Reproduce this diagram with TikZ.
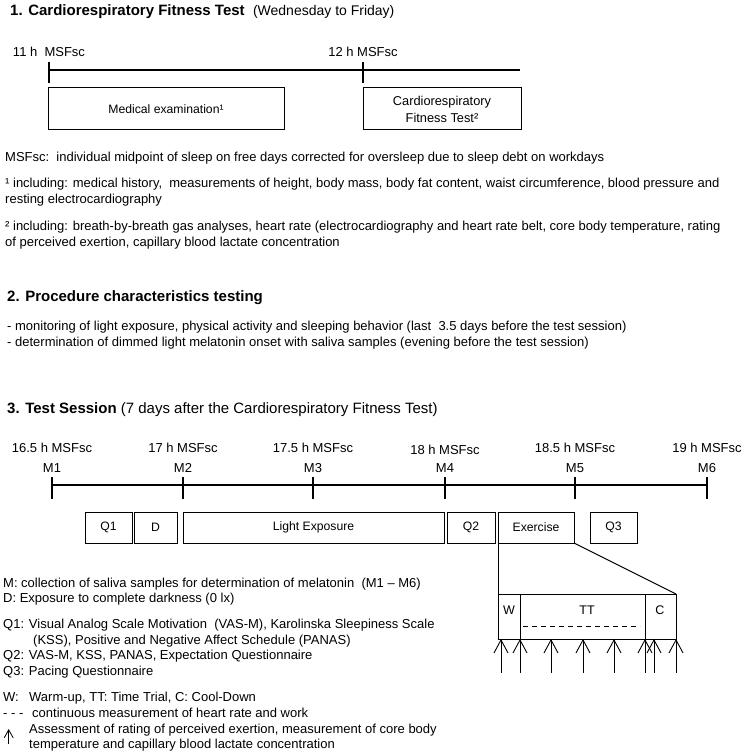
\documentclass[tikz,border=0pt]{standalone}
\usepackage{fontspec}
\setmainfont{Liberation Sans}
\usetikzlibrary{arrows.meta}
\begin{document}
\begin{tikzpicture}[x=1pt,y=-1pt,
  txt/.style={anchor=base west, inner sep=0pt, font=\fontsize{13}{16}\selectfont},
  ttl/.style={anchor=base west, inner sep=0pt, font=\fontsize{15}{18}\selectfont},
  lbl/.style={anchor=base, inner sep=0pt, font=\fontsize{13}{16}\selectfont},
  box/.style={draw, line width=1pt, inner sep=0pt, outer sep=0pt, anchor=north west,
              font=\fontsize{12.2}{16}\selectfont},
  axisline/.style={line width=1.4pt},
  meas/.style={line width=0.9pt, -{Straight Barb[length=13pt,width=14pt]}},
]
\useasboundingbox (0,0) rectangle (743,754);

% ---------- Section 1 ----------
\node[ttl] (t1) at (10,16) {\textbf{1. Cardiorespiratory Fitness Test}\ \ {\fontsize{14}{17}\selectfont(Wednesday to Friday)}};
\node[lbl] (l11) at (49,57) {11 h\ \ MSFsc};
\node[lbl] (l12) at (363,57) {12 h MSFsc};
\coordinate (a1s) at (49,70);
\coordinate (a1e) at (520,70);
\draw[axisline] (a1s) -- (a1e);
\coordinate (k1t) at (49,62); \coordinate (k1b) at (49,83);
\coordinate (k2t) at (363,62); \coordinate (k2b) at (363,83);
\draw[axisline] (k1t) -- (k1b);
\draw[axisline] (k2t) -- (k2b);
\node[box, minimum width=236pt, minimum height=42pt] (med) at (48,88) {Medical examination¹};
\node[box, minimum width=158pt, minimum height=42pt, align=center, font=\fontsize{12.8}{17}\selectfont] (cft) at (363,88) {Cardiorespiratory\\Fitness Test²};

\node[txt] (n0) at (5,162) {MSFsc:\ \ individual midpoint of sleep on free days corrected for oversleep due to sleep debt on workdays};
\node[txt] (n1a) at (5,187) {¹ including: medical history,\ \ measurements of height, body mass, body fat content, waist circumference, blood pressure and};
\node[txt] (n1b) at (5,203) {resting electrocardiography};
\node[txt] (n2a) at (5,230) {² including: breath-by-breath gas analyses, heart rate (electrocardiography and heart rate belt, core body temperature, rating};
\node[txt] (n2b) at (5,246) {of perceived exertion, capillary blood lactate concentration};

% ---------- Section 2 ----------
\node[ttl] (t2) at (7,301) {\textbf{2. Procedure characteristics testing}};
\node[txt] (p1) at (7,330) {- monitoring of light exposure, physical activity and sleeping behavior (last\ \ 3.5 days before the test session)};
\node[txt] (p2) at (7,346) {- determination of dimmed light melatonin onset with saliva samples (evening before the test session)};

% ---------- Section 3 ----------
\node[ttl] (t3) at (7,413) {\textbf{3. Test Session} (7 days after the Cardiorespiratory Fitness Test)};

\foreach \x/\h/\m/\dy in {52/16.5/1/0, 183/17/2/0, 313/17.5/3/0, 445/18/4/2, 575/18.5/5/0, 707/19/6/0}{
  \node[lbl] (h\m) at (\x,452+\dy) {\h{} h MSFsc};
  \node[lbl] (m\m) at (\x,472) {M\m};
  \coordinate (tk\m t) at (\x,477);
  \coordinate (tk\m b) at (\x,499);
  \draw[axisline] (tk\m t) -- (tk\m b);
}
\coordinate (a3s) at (52,485);
\coordinate (a3e) at (707,485);
\draw[axisline] (a3s) -- (a3e);

\node[box, minimum width=47pt, minimum height=31pt] (q1) at (85,512) {Q1};
\node[box, minimum width=43pt, minimum height=31pt] (d) at (134,512) {D};
\node[box, minimum width=261pt, minimum height=31pt] (le) at (183,512) {Light Exposure};
\node[box, minimum width=48pt, minimum height=31pt] (q2) at (447,512) {Q2};
\node[box, minimum width=76pt, minimum height=31pt] (ex) at (498,512) {Exercise};
\node[box, minimum width=47pt, minimum height=31pt] (q3) at (590,512) {Q3};

% inset
\node[box, minimum width=22pt, minimum height=45pt] (w) at (498,594) {};
\node[box, minimum width=125pt, minimum height=45pt] (tt) at (520,594) {};
\node[box, minimum width=31pt, minimum height=45pt] (c) at (645,594) {};
\node[lbl, font=\fontsize{12.5}{16}\selectfont] (wl) at (509,614.5) {W};
\node[lbl, font=\fontsize{12.5}{16}\selectfont] (ttl) at (587,614.5) {TT};
\node[lbl, font=\fontsize{12.5}{16}\selectfont] (cl) at (660,614.5) {C};
\draw[line width=1pt] (ex.south west) -- (w.north west);
\draw[line width=1pt] (ex.south east) -- (c.north east);
\coordinate (ds) at (523,626);
\coordinate (de) at (640,626);
\draw[line width=1pt, dash pattern=on 5pt off 4pt] (ds) -- (de);

\foreach \x [count=\i] in {501,520,551,583,614,645,654,676}{
  \coordinate (ar\i s) at (\x,673);
  \coordinate (ar\i t) at (\x,639);
  \draw[meas] (ar\i s) -- (ar\i t);
}

% legend
\node[txt] (lm) at (3,587) {M: collection of saliva samples for determination of melatonin\ \ (M1 – M6)};
\node[txt] (ld) at (3,602) {D: Exposure to complete darkness (0 lx)};
\node[txt] (lq1a) at (3,628) {Q1: Visual Analog Scale Motivation\ \ (VAS-M), Karolinska Sleepiness Scale};
\node[txt] (lq1b) at (33,644) {(KSS), Positive and Negative Affect Schedule (PANAS)};
\node[txt] (lq2) at (3,659) {Q2: VAS-M, KSS, PANAS, Expectation Questionnaire};
\node[txt] (lq3) at (3,675) {Q3: Pacing Questionnaire};
\node[txt] (lw1) at (3,701) {W:};
\node[txt] (lw2) at (29,701) {Warm-up, TT: Time Trial, C: Cool-Down};
\node[txt] (lh1) at (3,717) {- - -};
\node[txt] (lh2) at (32,717) {continuous measurement of heart rate and work};
\coordinate (la1) at (8.7,744);
\coordinate (la2) at (8.7,729);
\draw[line width=0.8pt, -{Straight Barb[length=8pt,width=9pt]}] (la1) -- (la2);
\node[txt] (la) at (29,733) {Assessment of rating of perceived exertion, measurement of core body};
\node[txt] (lb) at (29,748) {temperature and capillary blood lactate concentration};
\end{tikzpicture}
\end{document}
